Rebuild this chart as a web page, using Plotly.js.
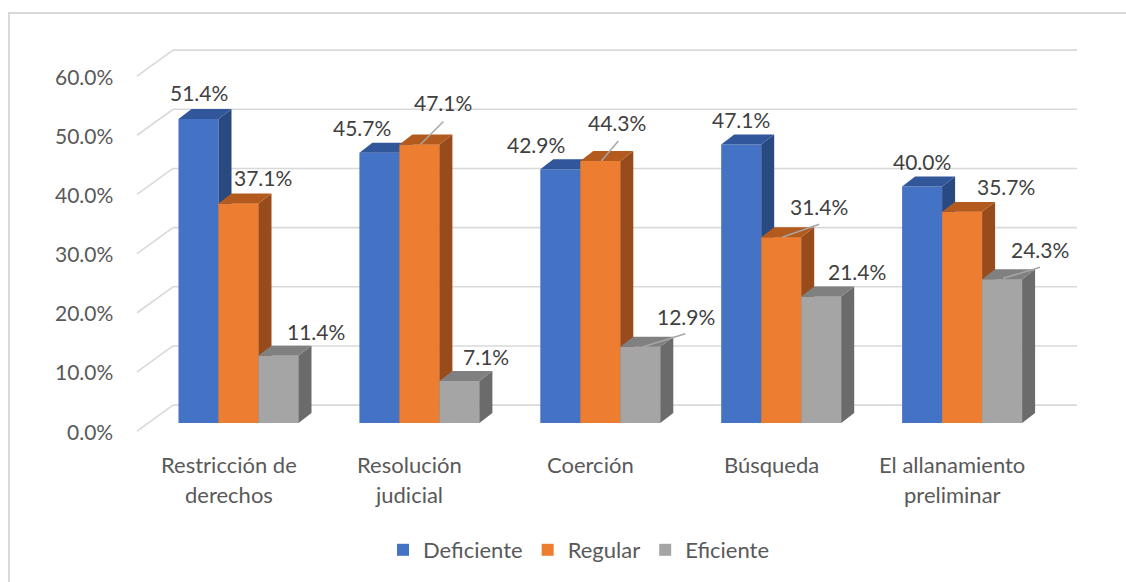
<!DOCTYPE html>
<html><head><meta charset="utf-8">
<script src="https://cdn.plot.ly/plotly-3.0.1.min.js"></script>
<style>
html,body{margin:0;padding:0;background:#fff;overflow:hidden;}
#frame{position:absolute;left:8px;top:12px;width:1300px;height:800px;border-left:2px solid #D9D9D9;border-top:2px solid #D9D9D9;}
#chart{position:absolute;left:0;top:0;width:1126px;height:582px;}
</style></head><body>
<div id="frame"></div><div id="chart"></div>
<script>
// ---- data ----
const categories = ['Restricción de<br>derechos', 'Resolución<br>judicial', 'Coerción', 'Búsqueda', 'El allanamiento<br>preliminar'];
const seriesNames = ['Deficiente', 'Regular', 'Eficiente'];
const deficiente = [51.4, 45.7, 42.9, 47.1, 40.0];
const regular    = [37.1, 47.1, 44.3, 31.4, 35.7];
const eficiente  = [11.4, 7.1, 12.9, 21.4, 24.3];
const yTickValues = [0, 10, 20, 30, 40, 50, 60];
const yTickLabels = ['0.0%', '10.0%', '20.0%', '30.0%', '40.0%', '50.0%', '60.0%'];

// ---- style / geometry ----
const series = [deficiente, regular, eficiente];
const frontCol = ['#4472C4', '#ED7D31', '#A5A5A5'];
const topCol   = ['#31579A', '#B35A1F', '#808080'];
const sideCol  = ['#294A80', '#984C1B', '#6B6B6B'];
const FONT = 'Lato, "Open Sans", sans-serif';
const M = {l: 130, r: 36, t: 30, b: 132};
const plotW = 1126 - M.l - M.r, plotH = 582 - M.t - M.b;
const pxPerCat = 180.9, pxPerPct = 5.93;
const xr0 = -(238.5 - M.l) / pxPerCat, xr1 = xr0 + plotW / pxPerCat;
const yr1 = (424 - M.t) / pxPerPct, yr0 = yr1 - plotH / pxPerPct;
const dxu = p => p / pxPerCat, dyu = p => p / pxPerPct;
const bargap = 0.3367;
const bw = (1 - bargap) / 3;
const depthX = dxu(13), depthY = dyu(10);

// label offsets in screen px [dx, dy(down)] per category per series
const labelOffsets = [
  [[0, -26], [24, -26], [37, -24]],
  [[-17, -25], [24, -42], [27, -25]],
  [[-24, -25], [17, -38], [46, -30]],
  [[0, -25], [38, -31], [36, -25]],
  [[0, -25], [44, -25], [38, -30]]
];
// leader lines: [category, series, x0, y0(up), x1, y1(up)] in px relative to bar top centre
const leaders = [
  [1, 1, 1, 0, 24, 23],
  [2, 1, 1, 0, 18, 20],
  [2, 2, 3, 0, 45, 13],
  [3, 1, 1, 0, 38, 13],
  [4, 2, 1, 1, 38, 12]
];

const idx = categories.map((c, i) => i);
const traces = [];
series.forEach((vals, s) => {
  traces.push({type: 'bar', x: idx, y: vals, name: seriesNames[s],
    marker: {color: frontCol[s], line: {width: 0}}, hoverinfo: 'skip'});
});

function faceTrace(s, kind) {
  const xs = [], ys = [];
  series[s].forEach((v, i) => {
    const xl = i + (s - 1) * bw - bw / 2, xr = xl + bw;
    let p;
    if (kind === 'front') p = [[xl, 0], [xr, 0], [xr, v], [xl, v]];
    else if (kind === 'side') p = [[xr, 0], [xr + depthX, depthY], [xr + depthX, v + depthY], [xr, v]];
    else p = [[xl, v], [xr, v], [xr + depthX, v + depthY], [xl + depthX, v + depthY]];
    p.forEach(q => { xs.push(q[0]); ys.push(q[1]); });
    xs.push(xs[xs.length - p.length]); ys.push(ys[ys.length - p.length]);
    xs.push(null); ys.push(null);
  });
  const col = kind === 'front' ? frontCol[s] : kind === 'side' ? sideCol[s] : topCol[s];
  return {type: 'scatter', mode: 'lines', x: xs, y: ys, fill: 'toself', fillcolor: col,
    line: {width: 0, color: col}, hoverinfo: 'skip', showlegend: false};
}
for (let s = 0; s < 3; s++) {
  if (s > 0) traces.push(faceTrace(s, 'front'));
  traces.push(faceTrace(s, 'side'));
  traces.push(faceTrace(s, 'top'));
}

// gridlines (back wall + floor diagonal)
const shapes = [];
const xFront = dxu(137 - 238.5), xWall = dxu(173 - 238.5), xEnd = dxu(1077 - 238.5);
yTickValues.forEach(v => {
  const gl = {color: '#D9D9D9', width: 1.6};
  shapes.push({type: 'line', layer: 'below', xref: 'x', yref: 'y', x0: xFront, y0: v - dyu(8), x1: xWall, y1: v + dyu(18), line: gl});
  shapes.push({type: 'line', layer: 'below', xref: 'x', yref: 'y', x0: xWall, y0: v + dyu(18), x1: xEnd, y1: v + dyu(18), line: gl});
});
leaders.forEach(L => {
  const [i, s, a, b, c, d] = L;
  shapes.push({type: 'line', xref: 'x', yref: 'y', xsizemode: 'pixel', ysizemode: 'pixel',
    xanchor: i + (s - 1) * bw, yanchor: series[s][i], x0: a, y0: b, x1: c, y1: d,
    line: {color: '#A6A6A6', width: 1.5}});
});

const annotations = [];
yTickValues.forEach((v, k) => {
  annotations.push({xref: 'x', yref: 'y', x: xFront, y: v, xanchor: 'right', yanchor: 'middle',
    xshift: -22, yshift: -8, text: yTickLabels[k], showarrow: false,
    font: {family: FONT, size: 21, color: '#595959'}});
});
categories.forEach((c, i) => {
  c.split('<br>').forEach((line, j) => {
    annotations.push({xref: 'x', yref: 'y', x: i, y: 0, xanchor: 'center', yanchor: 'middle',
      xshift: -10, yshift: -41 - 30 * j, text: line, showarrow: false,
      font: {family: FONT, size: 22, color: '#595959'}});
  });
});
series.forEach((vals, s) => {
  vals.forEach((v, i) => {
    const o = labelOffsets[i][s];
    annotations.push({xref: 'x', yref: 'y', x: i + (s - 1) * bw, y: v, xanchor: 'center', yanchor: 'middle',
      xshift: o[0], yshift: -o[1], text: v.toFixed(1) + '%', showarrow: false,
      font: {family: FONT, size: 21, color: '#404040'}});
  });
});

const layout = {
  width: 1126, height: 582, margin: M,
  paper_bgcolor: 'rgba(0,0,0,0)', plot_bgcolor: 'rgba(0,0,0,0)',
  barmode: 'group', bargap: bargap, bargroupgap: 0,
  xaxis: {type: 'linear', range: [xr0, xr1], visible: false, fixedrange: true},
  yaxis: {range: [yr0, yr1], visible: false, fixedrange: true},
  showlegend: true,
  legend: {orientation: 'h', x: (578.5 - M.l) / plotW, xanchor: 'center', y: (M.t + plotH - 550) / plotH, yanchor: 'middle',
    font: {family: FONT, size: 22, color: '#595959'}, itemwidth: 30, bgcolor: 'rgba(0,0,0,0)'},
  shapes: shapes, annotations: annotations,
  font: {family: FONT}
};
Plotly.newPlot('chart', traces, layout, {displayModeBar: false, staticPlot: true});
</script></body></html>
